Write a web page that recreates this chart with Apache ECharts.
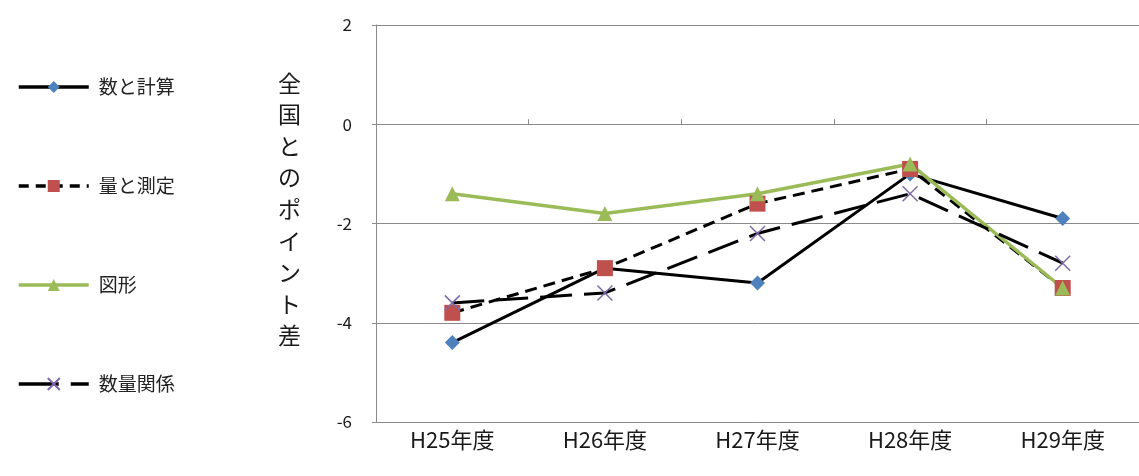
<!DOCTYPE html>
<html>
<head>
<meta charset="utf-8">
<script src="https://cdn.jsdelivr.net/npm/echarts@6/dist/echarts.min.js"></script>
<style>
  html, body { margin: 0; padding: 0; background: #fff; }
  #chart { width: 1139px; height: 476px; }
</style>
</head>
<body>
<div id="chart"></div>
<script>
// 年度ごとの全国平均とのポイント差（算数の領域別）
const categories = ['H25年度', 'H26年度', 'H27年度', 'H28年度', 'H29年度'];
const kazuToKeisan = [-4.4, -2.9, -3.2, -1.0, -1.9];   // 数と計算
const ryoToSokutei = [-3.8, -2.9, -1.6, -0.9, -3.3];   // 量と測定
const zukei = [-1.4, -1.8, -1.4, -0.8, -3.3];          // 図形
const suryoKankei = [-3.6, -3.4, -2.2, -1.4, -2.8];    // 数量関係
const yAxisName = '全国とのポイント差';

const FONT = '"Noto Sans CJK JP", "Noto Sans", sans-serif';
const GRID_GRAY = '#8a8a8a';

const SHORT_DASH = [12, 7];
const LONG_DASH = [32, 12];

const chart = echarts.init(document.getElementById('chart'), null, { renderer: 'canvas' });

chart.setOption({
  animation: false,
  backgroundColor: '#ffffff',
  textStyle: { fontFamily: FONT },
  legend: {
    orient: 'vertical',
    left: 12,
    top: 72,
    itemWidth: 70,
    itemHeight: 15,
    itemGap: 79,
    textStyle: { fontFamily: FONT, fontSize: 19, color: '#222', lineHeight: 20, padding: [0, 0, 0, 5] },
    data: [
      { name: '数と計算', lineStyle: { color: '#000', width: 3.5, type: 'solid' } },
      { name: '量と測定', lineStyle: { color: '#000', width: 3.5, type: [10, 7] } },
      { name: '図形', lineStyle: { color: '#9bbb59', width: 3.5, type: 'solid' } },
      { name: '数量関係', lineStyle: { color: '#000', width: 3.5, type: [40, 12] } }
    ]
  },
  grid: { left: 376, top: 25, width: 778, height: 397, containLabel: false },
  xAxis: [
    {
      // 0 の位置に引く横軸（目盛りのみ）
      type: 'category',
      data: categories,
      boundaryGap: true,
      axisLine: { onZero: true, lineStyle: { color: GRID_GRAY, width: 1 } },
      axisTick: { show: true, inside: true, length: 5, lineStyle: { color: GRID_GRAY } },
      axisLabel: { show: false },
      splitLine: { show: false }
    },
    {
      // 下端に並べる年度ラベル
      type: 'category',
      data: categories,
      position: 'bottom',
      boundaryGap: true,
      axisLine: { show: false },
      axisTick: { show: false },
      axisLabel: { fontFamily: FONT, fontSize: 22, color: '#1a1a1a', margin: 7 },
      splitLine: { show: false }
    }
  ],
  yAxis: {
    type: 'value',
    min: -6,
    max: 2,
    interval: 2,
    axisLine: { show: true, lineStyle: { color: GRID_GRAY, width: 1 } },
    axisTick: { show: true, length: 4, lineStyle: { color: GRID_GRAY } },
    axisLabel: { fontFamily: FONT, fontSize: 17, color: '#1a1a1a', margin: 24 },
    splitLine: { show: true, lineStyle: { color: GRID_GRAY, width: 1 } }
  },
  // 縦書きの軸タイトル
  graphic: [
    {
      type: 'text',
      left: 278,
      top: 67,
      style: {
        text: yAxisName.split('').join('\n'),
        font: '23px ' + FONT,
        fill: '#1a1a1a',
        lineHeight: 31.6,
        align: 'center'
      }
    }
  ],
  series: [
    {
      name: '数と計算',
      type: 'line',
      xAxisIndex: 0,
      data: kazuToKeisan,
      symbol: 'diamond',
      symbolSize: 15,
      itemStyle: { color: '#4f81bd' },
      lineStyle: { color: '#000', width: 3, type: 'solid' }
    },
    {
      name: '量と測定',
      type: 'line',
      xAxisIndex: 0,
      data: ryoToSokutei,
      symbol: 'rect',
      symbolSize: 16,
      itemStyle: { color: '#c0504d' },
      lineStyle: { color: '#000', width: 3, type: SHORT_DASH }
    },
    {
      name: '図形',
      type: 'line',
      xAxisIndex: 0,
      data: zukei,
      symbol: 'triangle',
      symbolSize: 15,
      itemStyle: { color: '#9bbb59' },
      lineStyle: { color: '#9bbb59', width: 3.5, type: 'solid' }
    },
    {
      name: '数量関係',
      type: 'line',
      xAxisIndex: 0,
      data: suryoKankei,
      symbol: 'path://M0,0L10,10M10,0L0,10',
      symbolSize: 15,
      itemStyle: { color: 'rgba(0,0,0,0)', borderColor: '#7e6aa6', borderWidth: 1.5 },
      lineStyle: { color: '#000', width: 3, type: LONG_DASH }
    }
  ]
});
</script>
</body>
</html>
